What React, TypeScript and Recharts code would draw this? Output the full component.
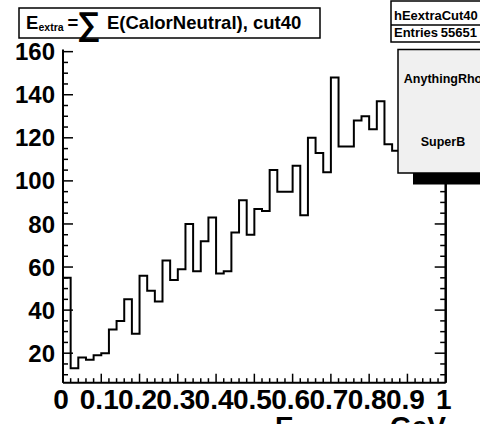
import React from 'react'
import { LineChart, Line, XAxis, YAxis } from 'recharts'

// E_extra histogram, 50 bins of 0.02 GeV between 0 and 1
const binCounts = [
  55, 13, 18, 17, 19, 20, 31, 35, 45, 29,
  56, 49, 44, 63, 54, 59, 80, 58, 72, 83,
  57, 58, 76, 91, 75, 87, 86, 105, 95, 95,
  107, 84, 120, 113, 104, 148, 116, 116, 128, 130,
  124, 137, 117, 114, 118, 112, 121, 109, 115, 110,
]
const xMin = 0
const xMax = 1
const yDomain = [6.3, 161]
const xTicks = Array.from({ length: 51 }, (_, i) => +(i * 0.02).toFixed(2))
const yTicks = Array.from({ length: 31 }, (_, i) => 10 + i * 5)

const histName = 'hEextraCut40'
const entries = 55651
const legendLabels = ['AnythingRho', 'SuperB']

const W = 480
const H = 424
const FONT = '"Liberation Sans", Arial, Helvetica, sans-serif'

const binWidth = (xMax - xMin) / binCounts.length
const histData = [
  ...binCounts.map((c, i) => ({ x: xMin + i * binWidth, y: c })),
  { x: xMax, y: binCounts[binCounts.length - 1] },
]

const isMajorX = (v: number) => Math.abs(v * 10 - Math.round(v * 10)) < 1e-6
const isMajorY = (v: number) => v % 20 === 0

function BottomTick(props: any) {
  const { x, y, payload } = props
  const v = payload.value as number
  const major = isMajorX(v)
  return (
    <g>
      <line x1={x} x2={x} y1={y} y2={y - (major ? 9 : 4.5)} stroke="#000" strokeWidth={1.5} />
      {major && (
        <text x={x - 2} y={y + 26.6} textAnchor="middle" fontSize={28} fontWeight="bold" fontFamily={FONT} fill="#000">
          {String(+v.toFixed(1))}
        </text>
      )}
    </g>
  )
}

function TopTick(props: any) {
  const { x, y, payload } = props
  const major = isMajorX(payload.value)
  return <line x1={x} x2={x} y1={y} y2={y + (major ? 7.5 : 4)} stroke="#000" strokeWidth={1.5} />
}

function LeftTick(props: any) {
  const { x, y, payload } = props
  const v = payload.value as number
  const major = isMajorY(v)
  return (
    <g>
      <line x1={x} x2={x + (major ? 10 : 5)} y1={y} y2={y} stroke="#000" strokeWidth={1.5} />
      {major && (
        <text x={x - 8} y={y + 8.6} textAnchor="end" fontSize={24} fontWeight="bold" fontFamily={FONT} fill="#000">
          {v}
        </text>
      )}
    </g>
  )
}

function RightTick(props: any) {
  const { x, y, payload } = props
  const major = isMajorY(payload.value)
  return <line x1={x} x2={x - (major ? 11 : 5.5)} y1={y} y2={y} stroke="#000" strokeWidth={1.5} />
}

function Overlay() {
  const t = { fontFamily: FONT, fontWeight: 'bold' as const, fill: '#000' }
  return (
    <svg width={W} height={H} style={{ position: 'absolute', left: 0, top: 0, pointerEvents: 'none' }}>
      {/* title pave */}
      <rect x={19} y={8} width={301} height={30} fill="#fff" stroke="#000" strokeWidth={1.5} />
      <text x={26} y={28.5} fontSize={18.5} {...t}>E</text>
      <text x={38.5} y={31} fontSize={10.5} {...t}>extra</text>
      <text x={67.5} y={28.5} fontSize={18.5} {...t}>=</text>
      <text x={77} y={35} fontSize={33} {...t}>∑</text>
      <text x={107} y={28.5} fontSize={18.5} {...t}>E(CalorNeutral), cut40</text>

      {/* stats box */}
      <rect x={391} y={1} width={100} height={41} fill="#fff" stroke="#000" strokeWidth={1.5} />
      <line x1={391} x2={W} y1={25} y2={25} stroke="#000" strokeWidth={1.5} />
      <text x={394} y={19.5} fontSize={13} {...t}>{histName}</text>
      <text x={394} y={37} fontSize={13} {...t}>Entries</text>
      <text x={477} y={37} fontSize={13} textAnchor="end" {...t}>{entries}</text>

      {/* legend with shadow */}
      <rect x={413} y={173} width={80} height={11.5} fill="#000" />
      <rect x={398} y={49.5} width={95} height={123.5} fill="#f0f0f0" stroke="#000" strokeWidth={1.5} />
      <text x={443} y={83.3} fontSize={12.5} textAnchor="middle" {...t}>{legendLabels[0]}</text>
      <text x={443} y={145.7} fontSize={12.5} textAnchor="middle" {...t}>{legendLabels[1]}</text>

      {/* x axis title, mostly below the canvas */}
      <text x={275} y={436} fontSize={28} {...t}>E</text>
      <text x={294} y={443} fontSize={17} {...t}>extra</text>
      <text x={446} y={436} fontSize={28} textAnchor="end" {...t}>GeV</text>
    </svg>
  )
}

export default function App() {
  return (
    <div style={{ position: 'absolute', left: 0, top: 0, width: W, height: H, background: '#fff', overflow: 'hidden' }}>
      <LineChart width={W} height={H} data={histData} margin={{ top: 49.5, right: 0, bottom: 0, left: 0 }}>
        <XAxis
          xAxisId="bottom"
          dataKey="x"
          type="number"
          domain={[xMin, xMax]}
          ticks={xTicks}
          interval={0}
          height={41.3}
          tickSize={0}
          tickMargin={0}
          tickLine={false}
          axisLine={{ stroke: '#000', strokeWidth: 2 }}
          tick={<BottomTick />}
          allowDataOverflow
        />
        <XAxis
          xAxisId="top"
          orientation="top"
          dataKey="x"
          type="number"
          domain={[xMin, xMax]}
          ticks={xTicks}
          interval={0}
          height={0}
          tickSize={0}
          tickMargin={0}
          tickLine={false}
          axisLine={{ stroke: '#000', strokeWidth: 1.5 }}
          tick={<TopTick />}
          allowDataOverflow
        />
        <YAxis
          yAxisId="left"
          type="number"
          domain={yDomain}
          ticks={yTicks}
          interval={0}
          width={63}
          tickSize={0}
          tickMargin={0}
          tickLine={false}
          axisLine={{ stroke: '#000', strokeWidth: 2 }}
          tick={<LeftTick />}
          allowDataOverflow
        />
        <YAxis
          yAxisId="right"
          orientation="right"
          type="number"
          domain={yDomain}
          ticks={yTicks}
          interval={0}
          width={34.3}
          tickSize={0}
          tickMargin={0}
          tickLine={false}
          axisLine={{ stroke: '#000', strokeWidth: 2.5 }}
          tick={<RightTick />}
          allowDataOverflow
        />
        <Line
          xAxisId="bottom"
          yAxisId="left"
          dataKey="y"
          type="stepAfter"
          stroke="#000"
          strokeWidth={2}
          dot={false}
          activeDot={false}
          isAnimationActive={false}
        />
      </LineChart>
      <Overlay />
    </div>
  )
}
